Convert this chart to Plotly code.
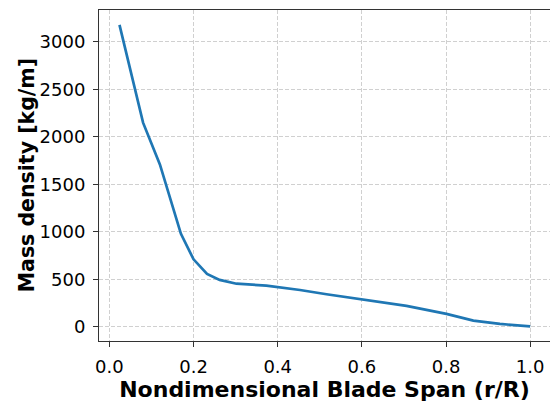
import plotly.graph_objects as go

# blade span (r/R) and mass density
span = [0.024, 0.080, 0.120, 0.170, 0.200, 0.232, 0.262, 0.302, 0.373, 0.400,
        0.453, 0.516, 0.603, 0.706, 0.801, 0.865, 0.928, 1.000]
mass_density = [3180, 2150, 1710, 980, 712, 558, 495, 455, 435, 420,
                389, 344, 285, 221, 137, 66, 32, 5]

x_ticks = [0.0, 0.2, 0.4, 0.6, 0.8, 1.0]
x_tick_text = ["0.0", "0.2", "0.4", "0.6", "0.8", "1.0"]
y_ticks = [0, 500, 1000, 1500, 2000, 2500, 3000]

font_family = "DejaVu Sans"

fig = go.Figure()
fig.add_trace(go.Scatter(
    x=span,
    y=mass_density,
    mode="lines",
    line=dict(color="#1f77b4", width=2.7),
    showlegend=False,
))

axis_common = dict(
    automargin=False,
    showgrid=True,
    gridcolor="rgba(176,176,176,0.6)",
    griddash="4px,2px",
    gridwidth=1,
    zeroline=False,
    showline=True,
    linecolor="#333333",
    linewidth=1.1,
    ticks="outside",
    ticklen=5,
    tickwidth=1,
    tickcolor="#333333",
    ticklabelstandoff=4,
    tickfont=dict(family=font_family, size=18, color="black"),
)

fig.update_xaxes(
    range=[-0.0247, 1.0471],
    tickvals=x_ticks,
    ticktext=x_tick_text,
    mirror=True,
    title=dict(text="<b>Nondimensional Blade Span (r/R)</b>",
               font=dict(family=font_family, size=22, color="black"),
               standoff=4),
    **axis_common,
)
fig.update_yaxes(
    range=[-148, 3336],
    tickvals=y_ticks,
    **axis_common,
)

# y-axis label as a rotated annotation so it can be placed exactly
fig.add_annotation(
    text="<b>Mass density [kg/m]</b>",
    textangle=-90,
    xref="paper", yref="paper",
    x=-0.16, y=0.5,
    xanchor="center", yanchor="middle",
    showarrow=False,
    font=dict(family=font_family, size=20.5, color="black"),
)

fig.update_layout(
    width=550,
    height=402,
    margin=dict(l=99, r=0, t=10, b=61),
    plot_bgcolor="white",
    paper_bgcolor="white",
)

# the page body has a default 8px margin; remove it so the figure sits at 0,0
fig.write_html("out.html", config={"displayModeBar": False},
               post_script="document.body.style.margin='0';")
